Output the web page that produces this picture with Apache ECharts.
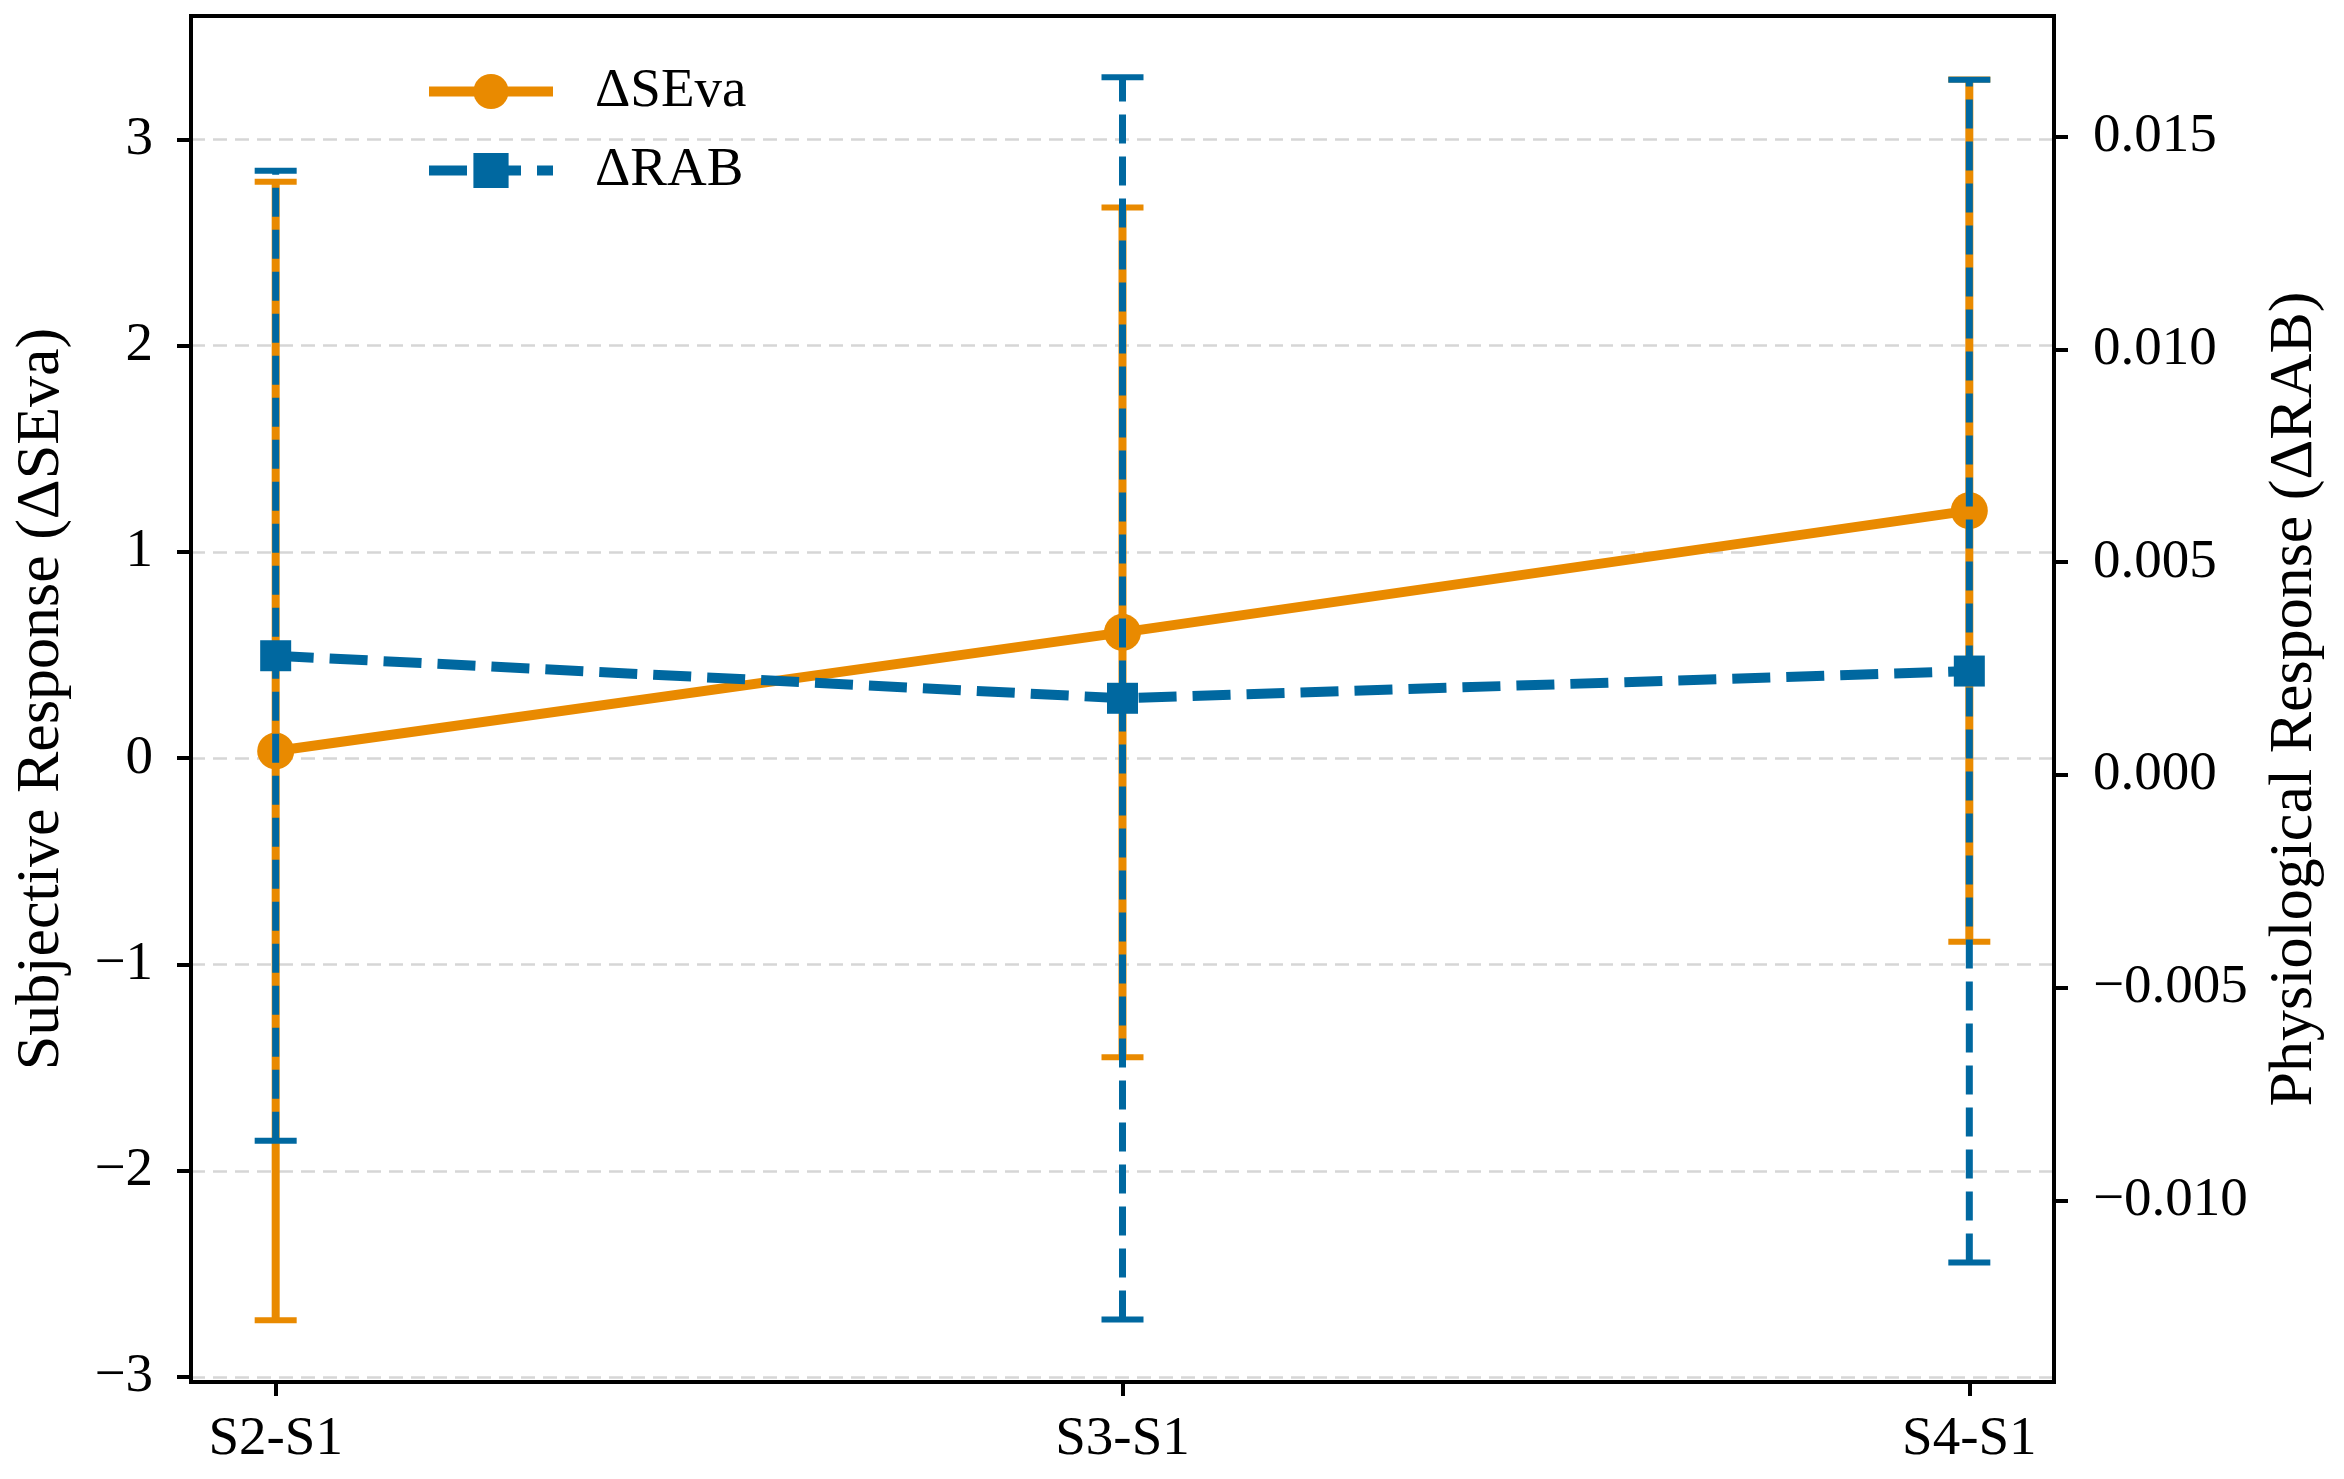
<!DOCTYPE html>
<html>
<head>
<meta charset="utf-8">
<script src="https://cdn.jsdelivr.net/npm/echarts@6/dist/echarts.min.js"></script>
<style>
  html, body { margin: 0; padding: 0; background: #fff; }
  #chart { width: 2344px; height: 1479px; }
</style>
</head>
<body>
<div id="chart"></div>
<script>
// ---- data ----
const categories = ['S2-S1', 'S3-S1', 'S4-S1'];
const sevaMean = [0.035, 0.61, 1.2];
const sevaErr = [2.76, 2.06, 2.09];
const rabMean = [0.0028, 0.0018, 0.00244];
const rabErr = [0.0114, 0.0146, 0.0139];
const leftTicks = [-3, -2, -1, 0, 1, 2, 3];
const rightTicks = [-0.010, -0.005, 0.000, 0.005, 0.010, 0.015];

// ---- style ----
const ORANGE = '#E98A00';
const BLUE = '#0068A0';
const FONT = "'Liberation Serif', 'Times New Roman', serif";
const FS = 55;
const NFS = 62;

function minusFmt(s) { return s.replace('-', '\u2212'); }

const sevaLine = categories.map((c, i) => [i, sevaMean[i]]);
const rabLine = categories.map((c, i) => [i, rabMean[i]]);
const sevaBars = categories.map((c, i) => [i, sevaMean[i] - sevaErr[i], sevaMean[i] + sevaErr[i]]);
const rabBars = categories.map((c, i) => [i, rabMean[i] - rabErr[i], rabMean[i] + rabErr[i]]);

function errRender(color, width, dash) {
  return function (params, api) {
    const x = api.value(0), lo = api.value(1), hi = api.value(2);
    const pLo = api.coord([x, lo]);
    const pHi = api.coord([x, hi]);
    const cap = 21;
    const capStyle = { stroke: color, lineWidth: 6, fill: null };
    return {
      type: 'group',
      children: [
        { type: 'line', shape: { x1: pLo[0], y1: pLo[1], x2: pHi[0], y2: pHi[1] },
          style: { stroke: color, lineWidth: width, lineDash: dash, fill: null } },
        { type: 'line', shape: { x1: pLo[0] - cap, y1: pLo[1], x2: pLo[0] + cap, y2: pLo[1] }, style: capStyle },
        { type: 'line', shape: { x1: pHi[0] - cap, y1: pHi[1], x2: pHi[0] + cap, y2: pHi[1] }, style: capStyle }
      ]
    };
  };
}

const axisLineStyle = { color: '#000', width: 4 };
const labelStyle = { color: '#000', fontFamily: FONT, fontSize: FS };

const chart = echarts.init(document.getElementById('chart'), null, { renderer: 'canvas' });
chart.setOption({
  animation: false,
  backgroundColor: '#fff',
  textStyle: { fontFamily: FONT },
  grid: { left: 191, top: 16, width: 1863, height: 1366, show: true, borderColor: '#000', borderWidth: 4, backgroundColor: 'transparent' },
  legend: {
    data: [
      { name: 'ΔSEva', lineStyle: { color: ORANGE, width: 10, type: 'solid' } },
      { name: 'ΔRAB', lineStyle: { color: BLUE, width: 10, type: [38, 16] } }
    ],
    orient: 'vertical',
    left: 424, top: 64,
    padding: 0,
    itemWidth: 124, itemHeight: 44, itemGap: 24,
    textStyle: { color: '#000', fontFamily: FONT, fontSize: FS, lineHeight: 42, padding: [0, 0, 0, 37] }
  },
  xAxis: {
    type: 'value', min: -0.1, max: 2.1,
    axisLine: { show: true, onZero: false, lineStyle: axisLineStyle },
    axisTick: { show: true, customValues: [0, 1, 2], length: 14, lineStyle: { color: '#000', width: 4 } },
    axisLabel: Object.assign({ customValues: [0, 1, 2], margin: 30, formatter: v => categories[Math.round(v)] }, labelStyle),
    splitLine: { show: false }
  },
  yAxis: [
    {
      type: 'value', position: 'left', min: -3.024, max: 3.598,
      name: 'Subjective Response (ΔSEva)', nameLocation: 'middle', nameGap: 118,
      nameTextStyle: { color: '#000', fontFamily: FONT, fontSize: NFS },
      axisLine: { show: true, onZero: false, lineStyle: axisLineStyle },
      axisTick: { show: true, customValues: leftTicks, length: 14, lineStyle: { color: '#000', width: 4 } },
      axisLabel: Object.assign({ customValues: leftTicks, margin: 38, formatter: v => minusFmt(String(Math.round(v))) }, labelStyle),
      splitLine: { show: true, lineStyle: { color: '#d6d6d6', width: 2.5, type: [14, 8] } }
    },
    {
      type: 'value', position: 'right', min: -0.014271, max: 0.017837,
      name: 'Physiological Response (ΔRAB)', nameLocation: 'middle', nameGap: 210,
      nameTextStyle: { color: '#000', fontFamily: FONT, fontSize: NFS },
      axisLine: { show: true, onZero: false, lineStyle: axisLineStyle },
      axisTick: { show: true, customValues: rightTicks, length: 14, lineStyle: { color: '#000', width: 4 } },
      axisLabel: Object.assign({ customValues: rightTicks, margin: 39, formatter: v => minusFmt(v.toFixed(3)).replace('\u22120.000', '0.000') }, labelStyle),
      splitLine: { show: false }
    }
  ],
  series: [
    {
      name: 'ΔSEva err', type: 'custom', xAxisIndex: 0, yAxisIndex: 0, z: 2,
      renderItem: errRender(ORANGE, 8, null),
      encode: { x: 0, y: [1, 2] },
      data: sevaBars
    },
    {
      name: 'ΔSEva', type: 'line', xAxisIndex: 0, yAxisIndex: 0, z: 3,
      data: sevaLine,
      symbol: 'circle', symbolSize: 37,
      lineStyle: { color: ORANGE, width: 10 },
      itemStyle: { color: ORANGE }
    },
    {
      name: 'ΔRAB err', type: 'custom', xAxisIndex: 0, yAxisIndex: 1, z: 4,
      renderItem: errRender(BLUE, 7, [29, 13]),
      encode: { x: 0, y: [1, 2] },
      data: rabBars
    },
    {
      name: 'ΔRAB', type: 'line', xAxisIndex: 0, yAxisIndex: 1, z: 5,
      data: rabLine,
      symbol: 'rect', symbolSize: 31,
      lineStyle: { color: BLUE, width: 10, type: [38, 16] },
      itemStyle: { color: BLUE }
    }
  ]
});
</script>
</body>
</html>
